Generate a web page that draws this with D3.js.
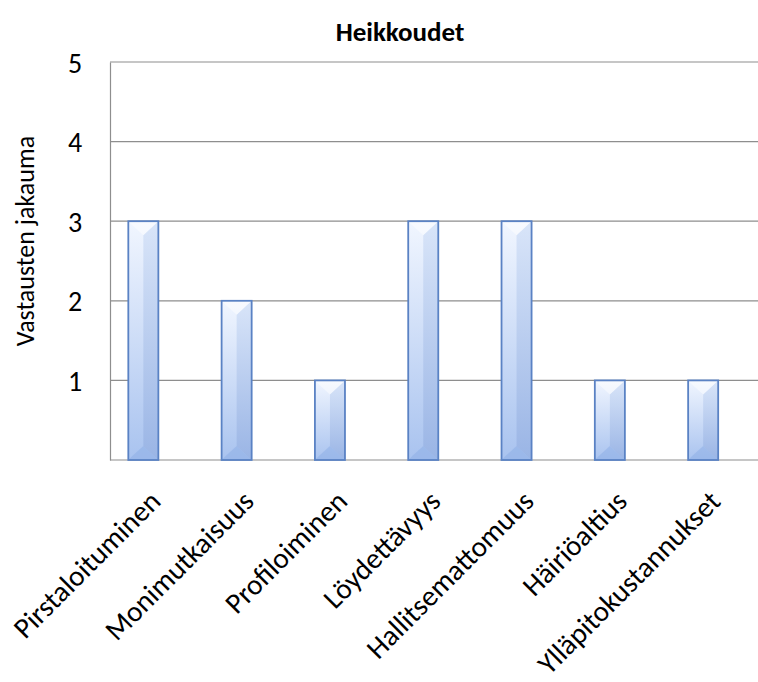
<!DOCTYPE html>
<html>
<head>
<meta charset="utf-8">
<script src="https://cdn.jsdelivr.net/npm/d3@7"></script>
<style>
  html, body { margin: 0; padding: 0; background: #fff; }
  svg { display: block; }
  text { font-family: Carlito, Lato, "Open Sans", sans-serif; fill: #000; }
</style>
</head>
<body>
<svg id="chart" width="758" height="682"></svg>
<script>
// Heikkoudet – number of answers per weakness
const categories = ["Pirstaloituminen", "Monimutkaisuus", "Profiloiminen", "Löydettävyys",
                    "Hallitsemattomuus", "Häiriöaltius", "Ylläpitokustannukset"];
const values = [3, 2, 1, 3, 3, 1, 1];
const yTicks = [1, 2, 3, 4, 5];
const title = "Heikkoudet";
const yLabel = "Vastausten jakauma";

const svg = d3.select("#chart");
const plot = { left: 110, right: 758, top: 62, bottom: 460 };

const x = d3.scaleBand()
  .domain(categories)
  .range([plot.left, plot.right])
  .paddingInner(0.678)
  .paddingOuter(0.3115)
  .align(0.315);

const y = d3.scaleLinear().domain([0, 5]).range([plot.bottom, plot.top]);

// gradients for the bevelled bars
const defs = svg.append("defs");
const g1 = defs.append("linearGradient").attr("id", "barFill")
  .attr("x1", 0).attr("y1", 0).attr("x2", 0).attr("y2", 1);
g1.append("stop").attr("offset", "0%").attr("stop-color", "#f1f6ff");
g1.append("stop").attr("offset", "100%").attr("stop-color", "#a9c3ef");

const g2 = defs.append("linearGradient").attr("id", "barSide")
  .attr("x1", 0).attr("y1", 0).attr("x2", 0).attr("y2", 1);
g2.append("stop").attr("offset", "0%").attr("stop-color", "#d6e3f8");
g2.append("stop").attr("offset", "100%").attr("stop-color", "#98b3e4");

// gridlines
svg.append("g")
  .selectAll("line")
  .data(yTicks)
  .join("line")
  .attr("x1", plot.left).attr("x2", plot.right)
  .attr("y1", d => y(d)).attr("y2", d => y(d))
  .attr("stroke", "#8e8e8e").attr("stroke-width", 1.2);

// axes
const yAxis = svg.append("g")
  .attr("transform", `translate(${plot.left},0)`)
  .call(d3.axisLeft(y).tickValues(yTicks).tickSize(0).tickFormat(d3.format("d")));
yAxis.select(".domain").attr("stroke", "#8e8e8e").attr("stroke-width", 1.2);
yAxis.selectAll("text")
  .attr("x", -35).attr("text-anchor", "middle").attr("dy", "0.36em")
  .style("font-size", "28px").style("font-weight", "400")
  .style("font-family", "Carlito, Lato, 'Open Sans', sans-serif");

const xAxis = svg.append("g")
  .attr("transform", `translate(0,${plot.bottom})`)
  .call(d3.axisBottom(x).tickSize(0).tickFormat(""));
xAxis.select(".domain").attr("stroke", "#8e8e8e").attr("stroke-width", 1.2)
  .attr("d", `M${plot.left},0H${plot.right}`);

// bars
const bars = svg.append("g")
  .selectAll("g")
  .data(categories.map((c, i) => ({ c, v: values[i] })))
  .join("g");

bars.each(function(d) {
  const g = d3.select(this);
  const x0 = x(d.c), w = x.bandwidth(), x1 = x0 + w, xm = x0 + w / 2;
  const t = y(d.v), b = y(0);
  const bv = Math.min(w / 2, 14);
  g.append("rect").attr("x", x0).attr("y", t).attr("width", w).attr("height", b - t)
    .attr("fill", "url(#barFill)");
  // right face
  g.append("path")
    .attr("d", `M${xm},${t + bv}L${x1},${t}L${x1},${b}L${xm},${b - bv}Z`)
    .attr("fill", "url(#barSide)").attr("opacity", 0.9);
  // top bevel
  g.append("path")
    .attr("d", `M${x0},${t}L${x1},${t}L${xm},${t + bv}L${x0 + 4},${t + 4}Z`)
    .attr("fill", "#ffffff").attr("opacity", 0.45);
  // bottom bevel
  g.append("path")
    .attr("d", `M${x0},${b}L${x0 + 4},${b - 4}L${xm},${b - bv}L${x1},${b}Z`)
    .attr("fill", "#8eaee6").attr("opacity", 0.55);
  g.append("rect").attr("x", x0).attr("y", t).attr("width", w).attr("height", b - t)
    .attr("fill", "none").attr("stroke", "#5a82c4").attr("stroke-width", 1.8);
});

// category labels, rotated
svg.append("g")
  .selectAll("text")
  .data(categories)
  .join("text")
  .attr("transform", d => `translate(${x(d) + x.bandwidth() / 2 + 19},${plot.bottom + 43}) rotate(-45)`)
  .attr("text-anchor", "end")
  .style("font-size", "29px")
  .text(d => d);

// title
svg.append("text")
  .attr("x", 400).attr("y", 41)
  .attr("text-anchor", "middle")
  .style("font-size", "27px").style("font-weight", "700")
  .text(title);

// y-axis title
svg.append("text")
  .attr("transform", `translate(34,${241}) rotate(-90)`)
  .attr("text-anchor", "middle")
  .style("font-size", "26px")
  .text(yLabel);
</script>
</body>
</html>
